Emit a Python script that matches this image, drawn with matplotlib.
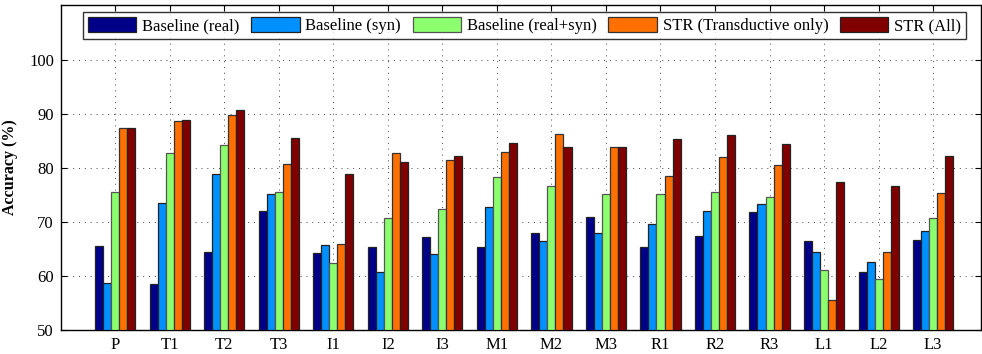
import numpy as np
import matplotlib
matplotlib.use("Agg")
import matplotlib.pyplot as plt

categories = ["P", "T1", "T2", "T3", "I1", "I2", "I3", "M1", "M2", "M3",
              "R1", "R2", "R3", "L1", "L2", "L3"]
series_names = ["Baseline (real)", "Baseline (syn)", "Baseline (real+syn)",
                "STR (Transductive only)", "STR (All)"]
baseline_real = [65.5, 58.6, 64.5, 72.1, 64.2, 65.3, 67.3, 65.3, 68.0, 71.0,
                 65.4, 67.4, 71.8, 66.5, 60.7, 66.6]
baseline_syn = [58.7, 73.6, 78.9, 75.2, 65.7, 60.8, 64.1, 72.7, 66.4, 67.9,
                69.6, 72.1, 73.4, 64.5, 62.6, 68.3]
baseline_realsyn = [75.5, 82.7, 84.2, 75.6, 62.4, 70.8, 72.4, 78.4, 76.7, 75.2,
                    75.1, 75.6, 74.6, 61.1, 59.5, 70.8]
str_trans = [87.4, 88.7, 89.8, 80.8, 65.9, 82.8, 81.4, 83.0, 86.3, 83.9,
             78.5, 82.0, 80.6, 55.5, 64.5, 75.4]
str_all = [87.4, 88.9, 90.8, 85.5, 78.8, 81.1, 82.2, 84.6, 83.9, 83.9,
           85.3, 86.2, 84.4, 77.4, 76.6, 82.2]
yticks = [50, 60, 70, 80, 90, 100]

plt.rcParams['font.family'] = ['Liberation Serif', 'DejaVu Serif']

colors = ["#000088", "#0090FF", "#8CFF6E", "#FF7000", "#800000"]
edges = ["#222222", "#222222", "#555555", "#333333", "#222222"]

fig = plt.figure(figsize=(9.82, 3.54), dpi=100)
ax = fig.add_axes([0.062, 0.068, 0.937, 0.918])

data = [baseline_real, baseline_syn, baseline_realsyn, str_trans, str_all]
x = np.arange(1, len(categories) + 1)
w = 0.147
for i, (vals, name) in enumerate(zip(data, series_names)):
    ax.bar(x + (i - 2) * w, np.array(vals) - 50, width=w, bottom=50,
           color=colors[i], edgecolor=edges[i], linewidth=0.9,
           label=name, zorder=3)

ax.set_xlim(0, 16.88)
ax.set_ylim(50, 110.2)
ax.set_xticks(x)
ax.set_xticklabels(categories, fontsize=12)
ax.set_yticks(yticks)
ax.set_yticklabels([str(v) for v in yticks], fontsize=12)
ax.tick_params(direction='in', top=True, right=True, length=4, width=0.8, pad=5)
ax.grid(True, linestyle=(0, (1, 5)), color='#444444', linewidth=0.7, zorder=0)
for s in ax.spines.values():
    s.set_linewidth(1.0)
ax.set_ylabel("Accuracy (%)", fontsize=11.5, fontweight='bold', labelpad=8)

leg = ax.legend(loc='upper center', bbox_to_anchor=(0.504, 0.977), ncol=5,
                fontsize=12, frameon=True, fancybox=False, edgecolor='black',
                handlelength=2.9, handleheight=0.95, handletextpad=0.35,
                columnspacing=0.7, borderpad=0.3, borderaxespad=0)
leg.get_frame().set_linewidth(1.0)
leg.set_zorder(5)

fig.savefig("out.png", dpi=100)
